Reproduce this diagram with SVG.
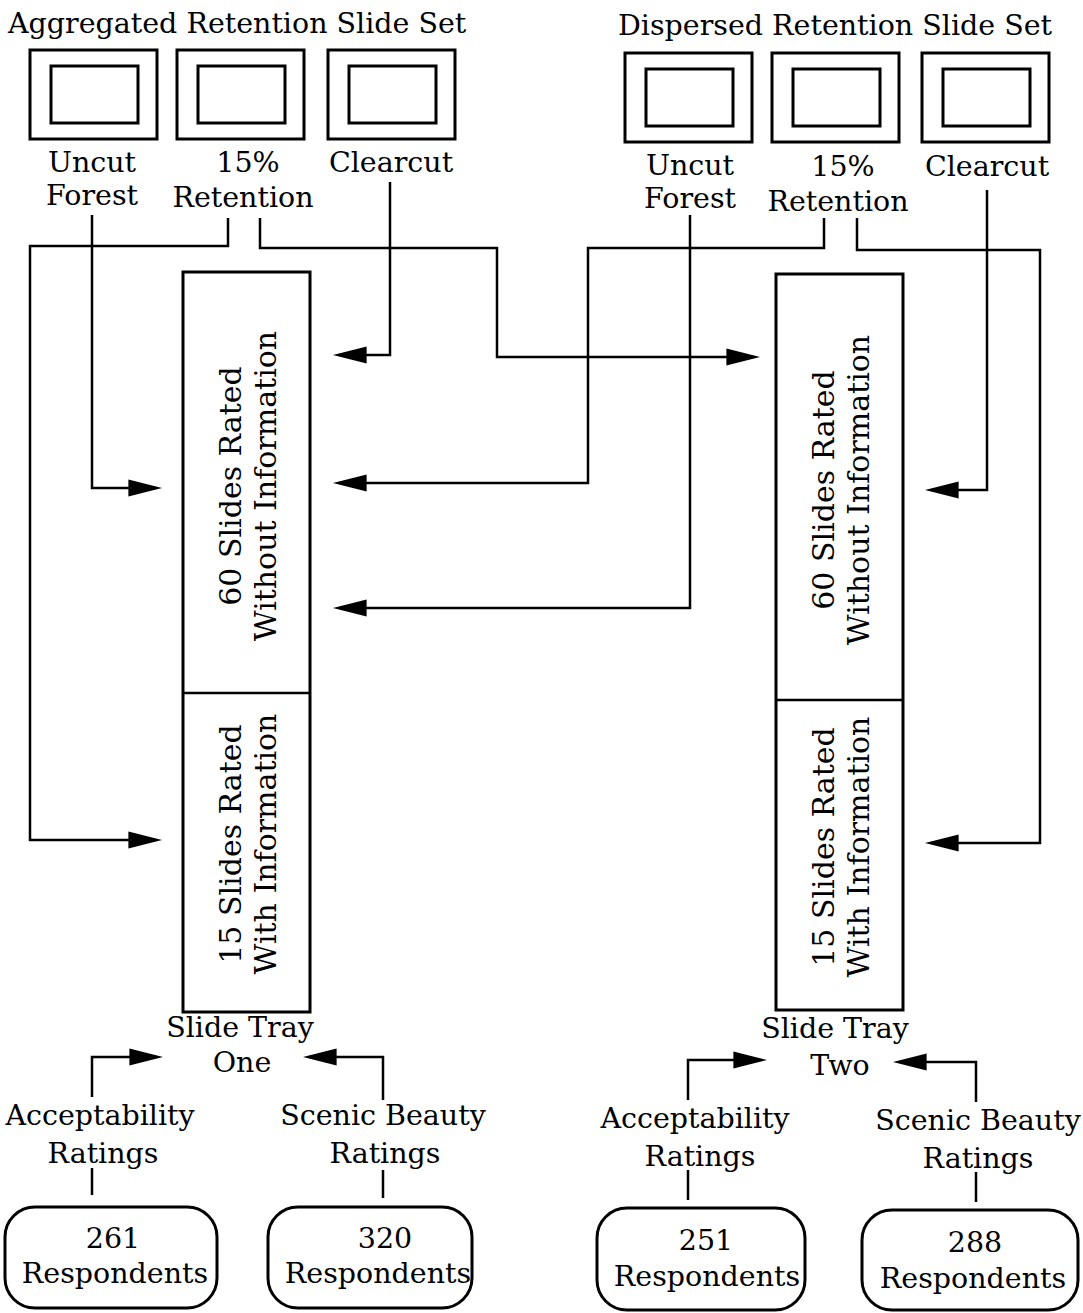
<svg xmlns="http://www.w3.org/2000/svg" width="1083" height="1313" viewBox="0 0 1083 1313">
<style>
text{font-family:"DejaVu Serif","Liberation Serif",serif;font-size:28.5px;fill:#000}
.c{text-anchor:middle}
.v{font-size:30px}
.box{fill:none;stroke:#000;stroke-width:3}
.ln{fill:none;stroke:#000;stroke-width:2.5}
.ar{fill:none;stroke:#000;stroke-width:2.5;marker-end:url(#ah)}
</style>
<defs>
<marker id="ah" markerUnits="userSpaceOnUse" markerWidth="34" markerHeight="18" refX="26" refY="8" orient="auto" viewBox="0 0 32 16">
<path d="M0,0 L32,8 L0,16 Z" fill="#000"/>
</marker>
</defs>
<rect width="1083" height="1313" fill="#fff"/>

<g id="title-aggregated"><text x="8" y="33">Aggregated Retention Slide Set</text></g>
<g id="title-dispersed"><text x="618" y="35">Dispersed Retention Slide Set</text></g>

<g id="agg-uncut">
<rect class="box" x="30" y="50" width="127" height="89"/>
<rect class="box" x="51" y="66" width="87" height="57"/>
<text class="c" x="92" y="172">Uncut</text><text class="c" x="92" y="205">Forest</text>
</g>
<g id="agg-15">
<rect class="box" x="177" y="50" width="127" height="89"/>
<rect class="box" x="198" y="66" width="87" height="57"/>
<text class="c" x="248" y="172">15%</text><text class="c" x="243" y="207">Retention</text>
</g>
<g id="agg-clearcut">
<rect class="box" x="328" y="50" width="127" height="89"/>
<rect class="box" x="349" y="66" width="87" height="57"/>
<text class="c" x="391" y="172">Clearcut</text>
</g>

<g id="dis-uncut">
<rect class="box" x="625" y="53" width="127" height="89"/>
<rect class="box" x="646" y="69" width="87" height="57"/>
<text class="c" x="690" y="175">Uncut</text><text class="c" x="690" y="208">Forest</text>
</g>
<g id="dis-15">
<rect class="box" x="772" y="53" width="127" height="89"/>
<rect class="box" x="793" y="69" width="87" height="57"/>
<text class="c" x="843" y="176">15%</text><text class="c" x="838" y="211">Retention</text>
</g>
<g id="dis-clearcut">
<rect class="box" x="922" y="53" width="127" height="89"/>
<rect class="box" x="943" y="69" width="87" height="57"/>
<text class="c" x="987" y="176">Clearcut</text>
</g>

<g id="tray-one">
<rect class="box" x="183" y="272" width="127" height="740"/>
<line class="ln" x1="183" y1="693" x2="310" y2="693"/>
<text class="c v" transform="translate(241,486) rotate(-90)">60 Slides Rated</text>
<text class="c v" transform="translate(276,486) rotate(-90)">Without Information</text>
<text class="c v" transform="translate(241,844) rotate(-90)">15 Slides Rated</text>
<text class="c v" transform="translate(276,844) rotate(-90)">With Information</text>
<text class="c" x="240" y="1037">Slide Tray</text><text class="c" x="242" y="1072">One</text>
</g>
<g id="tray-two">
<rect class="box" x="776" y="274" width="127" height="736"/>
<line class="ln" x1="776" y1="700" x2="903" y2="700"/>
<text class="c v" transform="translate(834,490) rotate(-90)">60 Slides Rated</text>
<text class="c v" transform="translate(869,490) rotate(-90)">Without Information</text>
<text class="c v" transform="translate(834,847) rotate(-90)">15 Slides Rated</text>
<text class="c v" transform="translate(869,847) rotate(-90)">With Information</text>
<text class="c" x="835" y="1038">Slide Tray</text><text class="c" x="840" y="1075">Two</text>
</g>

<g id="ratings-1"><text class="c" x="100" y="1125">Acceptability</text><text class="c" x="103" y="1163">Ratings</text></g>
<g id="ratings-2"><text class="c" x="383" y="1125">Scenic Beauty</text><text class="c" x="385" y="1163">Ratings</text></g>
<g id="ratings-3"><text class="c" x="695" y="1128">Acceptability</text><text class="c" x="700" y="1166">Ratings</text></g>
<g id="ratings-4"><text class="c" x="978" y="1130">Scenic Beauty</text><text class="c" x="978" y="1168">Ratings</text></g>

<g id="resp-261"><rect class="box" x="5" y="1207" width="212" height="101" rx="30"/><text class="c" x="113" y="1248">261</text><text class="c" x="115" y="1283">Respondents</text></g>
<g id="resp-320"><rect class="box" x="268" y="1207" width="204" height="101" rx="30"/><text class="c" x="385" y="1248">320</text><text class="c" x="378" y="1283">Respondents</text></g>
<g id="resp-251"><rect class="box" x="597" y="1208" width="208" height="102" rx="30"/><text class="c" x="706" y="1250">251</text><text class="c" x="707" y="1286">Respondents</text></g>
<g id="resp-288"><rect class="box" x="862" y="1210" width="216" height="100" rx="30"/><text class="c" x="975" y="1252">288</text><text class="c" x="973" y="1288">Respondents</text></g>

<g id="connectors">
<path class="ar" d="M92,215 V488 H156"/>
<path class="ar" d="M228,218 V246 H30 V840 H156"/>
<path class="ar" d="M260,218 V248 H497 V357 H754"/>
<path class="ar" d="M390,182 V355 H339"/>
<path class="ar" d="M824,218 V248 H588 V483 H339"/>
<path class="ar" d="M690,215 V608 H339"/>
<path class="ar" d="M987,190 V490 H931"/>
<path class="ar" d="M857,218 V250 H1040 V843 H931"/>
<path class="ar" d="M92,1097 V1057 H157"/>
<path class="ar" d="M383,1100 V1057 H309"/>
<path class="ar" d="M688,1100 V1060 H761"/>
<path class="ar" d="M976,1102 V1062 H899"/>
<path class="ln" d="M92,1168 V1195"/>
<path class="ln" d="M383,1170 V1198"/>
<path class="ln" d="M688,1170 V1200"/>
<path class="ln" d="M976,1172 V1202"/>
</g>
</svg>
